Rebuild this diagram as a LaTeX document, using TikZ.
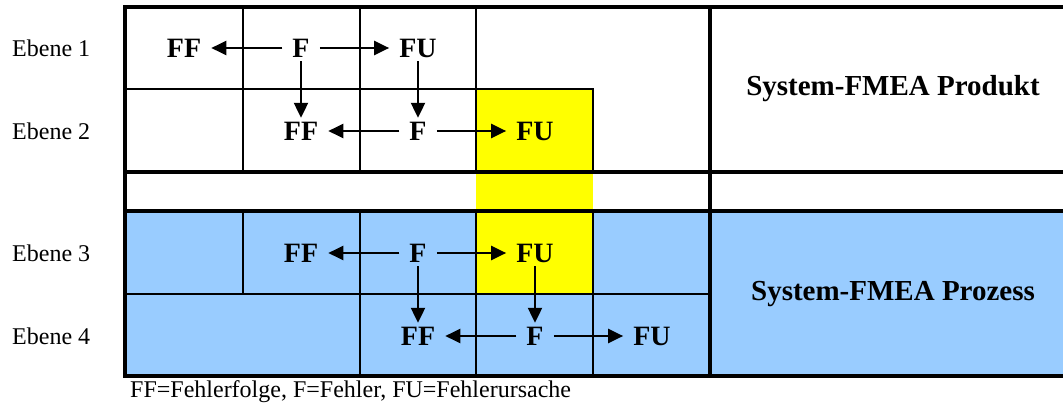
\documentclass[tikz,border=0pt]{standalone}
\usepackage{fontspec}
\setmainfont{Liberation Serif}
\usetikzlibrary{arrows.meta}

\definecolor{hellblau}{RGB}{153,204,255}
\definecolor{gelb}{RGB}{255,255,0}

\tikzset{
  kasten/.style={draw=black, line width=2.5pt},
  rahmen/.style={draw=black, line width=3.5pt},
  fm/.style={font=\fontsize{28}{32}\selectfont\bfseries, inner xsep=10pt, inner ysep=4pt,
             text height=18pt, text depth=0pt},
  ebene/.style={font=\fontsize{24}{28}\selectfont, anchor=west, inner sep=0pt},
  titel/.style={font=\fontsize{29}{33}\selectfont\bfseries},
  pfeil/.style={line width=2.2pt, -{Triangle[length=15pt,width=14pt]}}
}

\begin{document}
\begin{tikzpicture}[x=1pt, y=-1pt]
        \useasboundingbox (0,0) rectangle (1063,410);

        %flaechen
        \fill[hellblau] (125,211) rectangle (1066,376);
        \fill[gelb] (476,89) rectangle (593,294);

        %zellen
        \draw[kasten] (125,89) -- (593,89) -- (593,172);
        \draw[kasten] (125,294) -- (710,294);
        \foreach \x in {243,360,476}
            \draw[kasten] (\x,7) -- (\x,172);
        \foreach \x in {243,360,476,593}
            \draw[kasten] (\x,211) -- (\x,294);
        \foreach \x in {360,476,593}
            \draw[kasten] (\x,294) -- (\x,376);

        \draw[rahmen] (125,172) -- (1066,172);
        \draw[rahmen] (125,211) -- (1066,211);
        \draw[rahmen] (710,7) -- (710,376);
        \draw[rahmen] (125,7) rectangle (1066,376);

        %ebenen
        \node[ebene] (e1) at (12,48) {Ebene 1};
        \node[ebene] (e2) at (12,131) {Ebene 2};
        \node[ebene] (e3) at (12,253) {Ebene 3};
        \node[ebene] (e4) at (12,336) {Ebene 4};

        %ebene 1
        \node[fm] (ff1) at (184,48) {FF};
        \node[fm] (f1) at (301,48) {F};
        \node[fm] (fu1) at (418,48) {FU};
        %ebene 2
        \node[fm] (ff2) at (301,131) {FF};
        \node[fm] (f2) at (418,131) {F};
        \node[fm] (fu2) at (535,131) {FU};
        %ebene 3
        \node[fm] (ff3) at (301,253) {FF};
        \node[fm] (f3) at (418,253) {F};
        \node[fm] (fu3) at (535,253) {FU};
        %ebene 4
        \node[fm] (ff4) at (418,336) {FF};
        \node[fm] (f4) at (535,336) {F};
        \node[fm] (fu4) at (652,336) {FU};

        \draw[pfeil] (f1) -- (ff1);
        \draw[pfeil] (f1) -- (fu1);
        \draw[pfeil] (f2) -- (ff2);
        \draw[pfeil] (f2) -- (fu2);
        \draw[pfeil] (f3) -- (ff3);
        \draw[pfeil] (f3) -- (fu3);
        \draw[pfeil] (f4) -- (ff4);
        \draw[pfeil] (f4) -- (fu4);

        \draw[pfeil] (f1) -- (ff2);
        \draw[pfeil] (fu1) -- (f2);
        \draw[pfeil] (f3) -- (ff4);
        \draw[pfeil] (fu3) -- (f4);

        %system-fmea
        \node[titel] (produkt) at (893,89) {System-FMEA Produkt};
        \node[titel] (prozess) at (893,294) {System-FMEA Prozess};

        %legende
        \node[ebene] (legende) at (130,392) {FF=Fehlerfolge, F=Fehler, FU=Fehlerursache};

\end{tikzpicture}
\end{document}
